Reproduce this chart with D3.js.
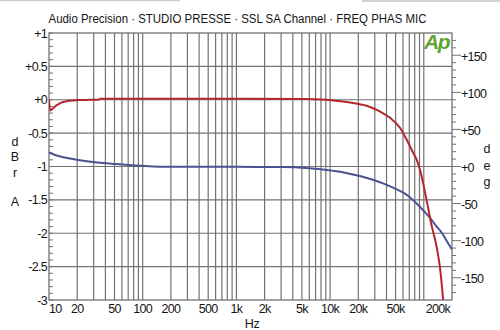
<!DOCTYPE html>
<html>
<head>
<meta charset="utf-8">
<script src="https://cdn.jsdelivr.net/npm/d3@7"></script>
<style>
  html, body { margin: 0; padding: 0; background: #fff; }
  svg { display: block; }
  text { font-family: "Liberation Sans", Arial, sans-serif; fill: #141414; }
</style>
</head>
<body>
<svg id="chart" width="500" height="330"></svg>
<script>
// Frequency response (level, dBrA) and phase (deg) of the mic channel
const levelFreq = [10, 10.3, 11, 11.6, 12.5, 13.7, 15, 16.7, 18.5, 20.5, 25, 30, 34, 35, 100, 1000, 5600, 8000, 10800, 16300, 24600, 34000, 43600, 55700, 65700, 77300, 84000, 91000, 107000, 121000, 137000, 149000, 161000];
const levelDb   = [0, -0.16, -0.13, -0.10, -0.07, -0.04, -0.025, -0.015, -0.01, -0.005, -0.003, 0, 0, 0.015, 0.015, 0.015, 0.01, 0.005, -0.01, -0.04, -0.09, -0.175, -0.27, -0.42, -0.60, -0.80, -0.90, -1.05, -1.5, -1.88, -2.2, -2.52, -3.0];

const phaseFreq = [10, 11.6, 14.8, 20.5, 31, 46.6, 70, 106, 172, 1000, 3100, 6000, 9200, 14000, 20800, 28000, 36700, 47000, 60400, 72000, 84000, 100000, 116000, 135000, 155000, 175000, 200000];
const phaseDeg  = [19, 15.5, 12, 8.8, 5.7, 3.8, 2.0, 0.7, -0.3, -0.5, -0.8, -2.5, -4.7, -8, -12.8, -17.5, -22.7, -28.5, -35.3, -42, -50, -60, -69, -80, -89, -100, -112];

const xTickValues = [10, 20, 50, 100, 200, 500, 1000, 2000, 5000, 10000, 20000, 50000, 200000];
const xTickLabels = ["10", "20", "50", "100", "200", "500", "1k", "2k", "5k", "10k", "20k", "50k", "200k"];
const leftTicks = [1, 0.5, 0, -0.5, -1, -1.5, -2, -2.5, -3];
const leftTickLabels = ["+1", "+0.5", "+0", "-0.5", "-1", "-1.5", "-2", "-2.5", "-3"];
const rightTicks = [150, 100, 50, 0, -50, -100, -150];
const rightTickLabels = ["+150", "+100", "+50", "+0", "-50", "-100", "-150"];

const titleText = "Audio Precision \u00b7 STUDIO PRESSE \u00b7 SSL SA Channel \u00b7 FREQ PHAS MIC";

const svg = d3.select("#chart");
const L = 49, R = 452, T = 33, B = 300;
const gridColor = "#727272";

const x = d3.scaleLog().domain([10, 200000]).range([L, R]);
const yL = d3.scaleLinear().domain([-3, 1]).range([B, T]);
const yR = d3.scaleLinear().domain([-180, 180]).range([B, T]);

// faint frame remnants along the top edge
svg.append("line").attr("x1", 0).attr("x2", 180).attr("y1", 0.5).attr("y2", 0.5)
  .attr("stroke", "#cfcfcf").attr("stroke-width", 1.5);
svg.append("line").attr("x1", 362).attr("x2", 500).attr("y1", 1).attr("y2", 1)
  .attr("stroke", "#d4d4d4").attr("stroke-width", 2);

svg.append("rect").attr("x", L).attr("y", T).attr("width", R - L).attr("height", B - T).attr("fill", "#fff");

// vertical grid: every 1..9 of each decade
const vGrid = [];
for (let d = 10; d <= 100000; d *= 10) {
  for (let m = 1; m <= 9; m++) {
    const f = d * m;
    if (f > 10 && f < 200000) vGrid.push(f);
  }
}
svg.append("g").selectAll("line").data(vGrid).join("line")
  .attr("x1", d => x(d)).attr("x2", d => x(d))
  .attr("y1", T).attr("y2", B)
  .attr("stroke", gridColor).attr("stroke-width", 1.2);

// horizontal grid at every 0.5 dB
svg.append("g").selectAll("line").data(leftTicks.filter(v => v < 1 && v > -3)).join("line")
  .attr("x1", L).attr("x2", R)
  .attr("y1", d => yL(d)).attr("y2", d => yL(d))
  .attr("stroke", gridColor).attr("stroke-width", 1.2);

// plot frame
svg.append("rect").attr("x", L).attr("y", T).attr("width", R - L).attr("height", B - T)
  .attr("fill", "none").attr("stroke", gridColor).attr("stroke-width", 1.3);

// left axis: minor ticks every 0.1 dB pointing inward
const leftMinor = d3.range(-30, 11).map(i => i / 10);
svg.append("g").selectAll("line").data(leftMinor).join("line")
  .attr("x1", L).attr("x2", L + 4)
  .attr("y1", d => yL(d)).attr("y2", d => yL(d))
  .attr("stroke", gridColor).attr("stroke-width", 1);

svg.append("g").selectAll("text").data(leftTicks).join("text")
  .attr("x", 47).attr("y", d => yL(d)).attr("dy", "0.36em")
  .attr("text-anchor", "end").attr("font-size", 12.5).attr("letter-spacing", -0.7)
  .text((d, i) => leftTickLabels[i]);

// right axis: minor ticks every 10 deg, major every 50 deg, pointing outward
const rightMinor = d3.range(-17, 18).map(i => i * 10);
svg.append("g").selectAll("line").data(rightMinor).join("line")
  .attr("x1", R).attr("x2", d => (d % 50 === 0 ? R + 9 : R + 4))
  .attr("y1", d => yR(d)).attr("y2", d => yR(d))
  .attr("stroke", gridColor).attr("stroke-width", 1);

svg.append("g").selectAll("text").data(rightTicks).join("text")
  .attr("x", 461).attr("y", d => yR(d) + 1).attr("dy", "0.36em")
  .attr("text-anchor", "start").attr("font-size", 12.5).attr("letter-spacing", -0.7)
  .text((d, i) => rightTickLabels[i]);

// bottom frequency labels
svg.append("g").selectAll("text").data(xTickValues).join("text")
  .attr("x", (d, i) => i === 0 ? L : (i === xTickValues.length - 1 ? R - 2 : x(d)))
  .attr("y", 308).attr("dy", "0.36em")
  .attr("text-anchor", (d, i) => i === 0 ? "start" : (i === xTickValues.length - 1 ? "end" : "middle"))
  .attr("font-size", 12.5).attr("letter-spacing", -0.7)
  .text((d, i) => xTickLabels[i]);

svg.append("text").attr("x", 252).attr("y", 323).attr("dy", "0.36em")
  .attr("text-anchor", "middle").attr("font-size", 12.5).attr("letter-spacing", -0.4).text("Hz");

// stacked axis unit letters
[["d", 141.7], ["B", 156.7], ["r", 172.5], ["A", 201.7]].forEach(([c, yy]) =>
  svg.append("text").attr("x", 15).attr("y", yy).attr("dy", "0.36em")
    .attr("text-anchor", "middle").attr("font-size", 12.5).text(c));
[["d", 148.3], ["e", 165], ["g", 181]].forEach(([c, yy]) =>
  svg.append("text").attr("x", 487).attr("y", yy).attr("dy", "0.36em")
    .attr("text-anchor", "middle").attr("font-size", 12.5).text(c));

// title
svg.append("text").attr("x", 48.5).attr("y", 18.5).attr("dy", "0.36em")
  .attr("font-size", 12.5).attr("textLength", 378).attr("lengthAdjust", "spacingAndGlyphs")
  .text(titleText);

// logo mark
svg.append("text").attr("x", 424).attr("y", 48.5).attr("font-size", 21)
  .attr("font-weight", "bold").attr("font-style", "italic")
  .attr("letter-spacing", -1.5)
  .style("fill", "#5ea534").text("Ap");

// curves, clipped to the plot area
svg.append("clipPath").attr("id", "plotClip").append("rect")
  .attr("x", L).attr("y", T).attr("width", R - L).attr("height", B - T);

const levelPts = levelFreq.map((f, i) => [f, levelDb[i]]);
const phasePts = phaseFreq.map((f, i) => [f, phaseDeg[i]]);

const levelLine = d3.line().x(d => x(d[0])).y(d => yL(d[1])).curve(d3.curveMonotoneX);
const phaseLine = d3.line().x(d => x(d[0])).y(d => yR(d[1])).curve(d3.curveMonotoneX);

const curves = svg.append("g").attr("clip-path", "url(#plotClip)");
curves.append("path").datum(phasePts).attr("d", phaseLine)
  .attr("fill", "none").attr("stroke", "#4b5191").attr("stroke-width", 2);
curves.append("path").datum(levelPts).attr("d", levelLine)
  .attr("fill", "none").attr("stroke", "#b3262f").attr("stroke-width", 2);
</script>
</body>
</html>
